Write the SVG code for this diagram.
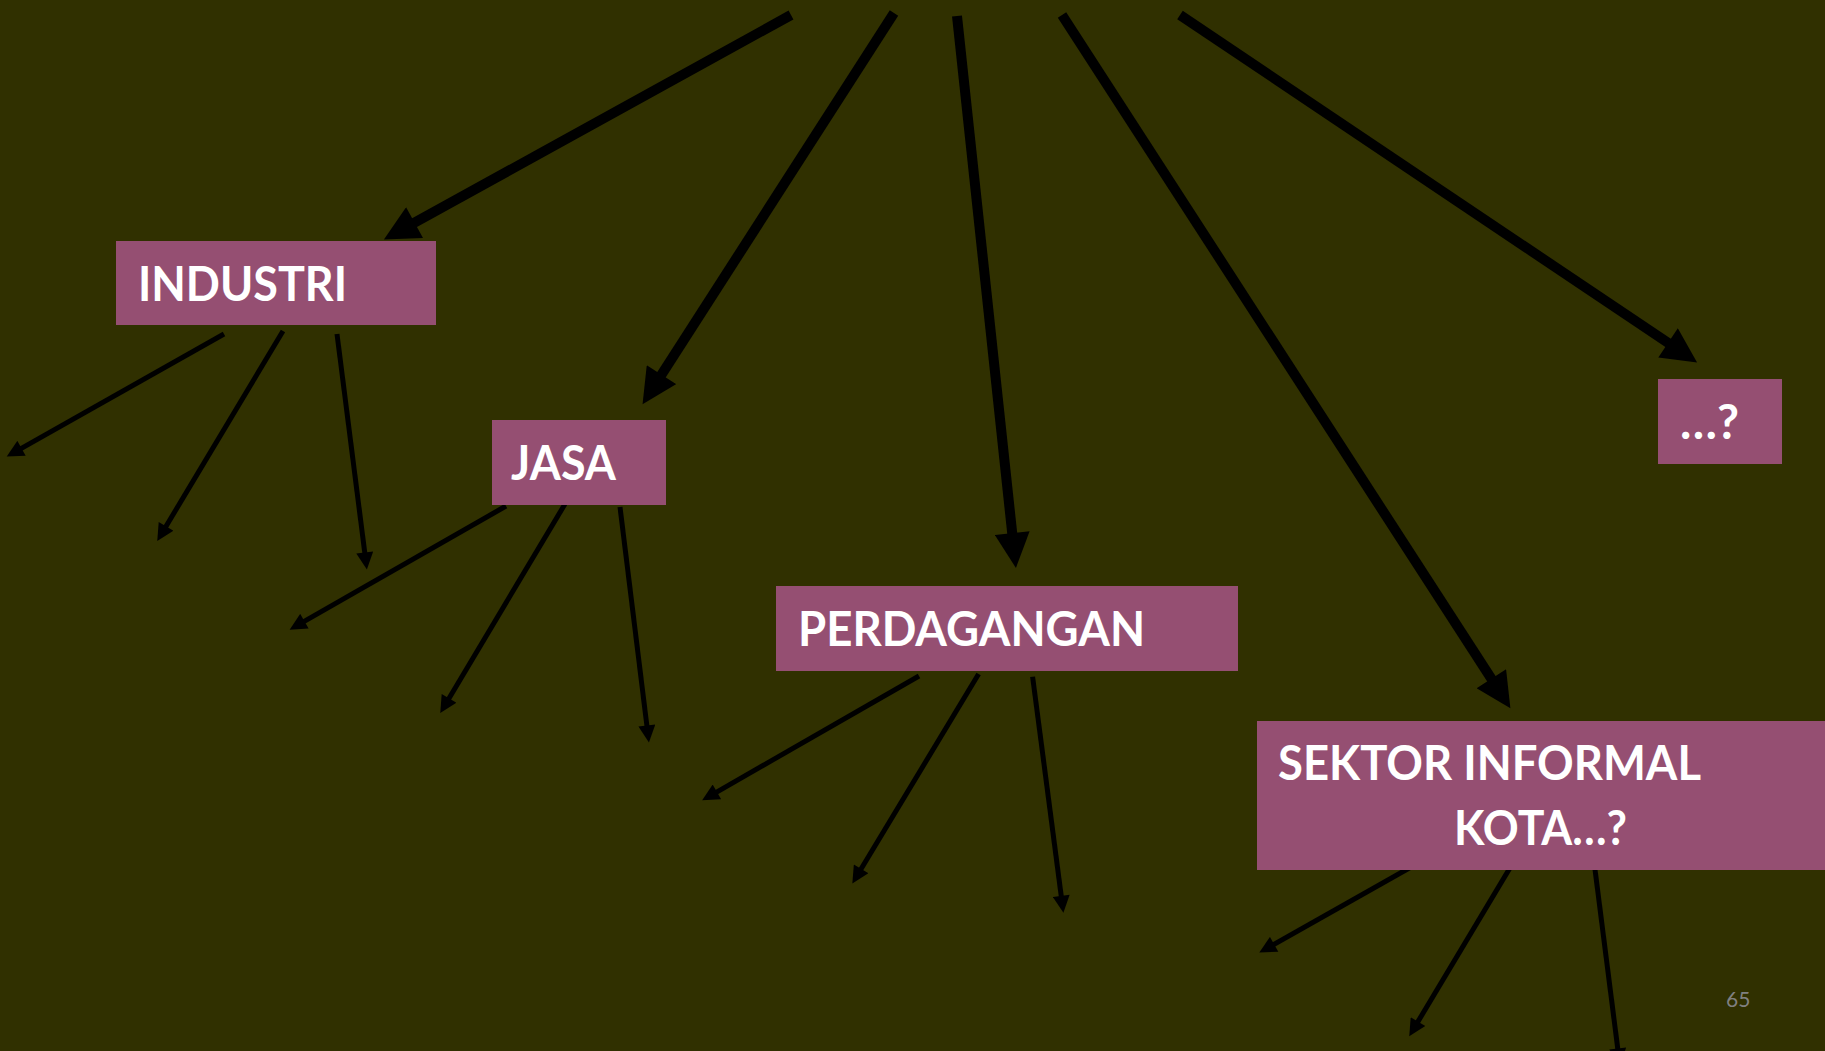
<svg xmlns="http://www.w3.org/2000/svg" width="1825" height="1051" viewBox="0 0 1825 1051">
  <style>
    .bg { fill: #303000; }
    .box { fill: #954F72; }
    .label { font-family: Lato, "Open Sans", "Liberation Sans", sans-serif; font-weight: 700; font-size: 47px; fill: #FFFFFF; }
    .page { font-family: Lato, "Open Sans", "Liberation Sans", sans-serif; font-size: 21px; fill: #808080; }
    .thick { stroke: #000000; stroke-width: 10; fill: none; marker-end: url(#headBig); }
    .thin { stroke: #000000; stroke-width: 5; fill: none; marker-end: url(#headSmall); }
  </style>
  <defs>
    <marker id="headBig" viewBox="0 0 10 10" refX="4" refY="5" markerUnits="userSpaceOnUse" markerWidth="36" markerHeight="35" orient="auto">
      <path d="M0,0 L10,5 L0,10 z" fill="#000000"/>
    </marker>
    <marker id="headSmall" viewBox="0 0 10 10" refX="4" refY="5" markerUnits="userSpaceOnUse" markerWidth="18" markerHeight="17" orient="auto">
      <path d="M0,0 L10,5 L0,10 z" fill="#000000"/>
    </marker>
  </defs>

  <rect class="bg" x="0" y="0" width="1825" height="1051"/>

  <!-- connectors: five main branches from the top, three sub-branches under each sector -->
  <g id="connectors">
    <line class="thick" x1="791" y1="15" x2="402.3" y2="229.4"/>
    <line class="thick" x1="894" y1="13" x2="653.9" y2="386.5"/>
    <line class="thick" x1="957" y1="16" x2="1013.7" y2="547.1"/>
    <line class="thick" x1="1062" y1="15" x2="1499" y2="690.5"/>
    <line class="thick" x1="1180" y1="15" x2="1679.7" y2="350.7"/>

    <line class="thin" x1="224" y1="334" x2="15.6" y2="451.6"/>
    <line class="thin" x1="283" y1="331" x2="162.5" y2="532.2"/>
    <line class="thin" x1="337" y1="334" x2="365.6" y2="559.3"/>

    <line class="thin" x1="506" y1="506" x2="298.5" y2="624.6"/>
    <line class="thin" x1="565" y1="504" x2="445.5" y2="704.2"/>
    <line class="thin" x1="620" y1="507" x2="647.7" y2="732.3"/>

    <line class="thin" x1="919" y1="676" x2="711.0" y2="795.3"/>
    <line class="thin" x1="978.6" y1="674" x2="857.6" y2="874.7"/>
    <line class="thin" x1="1032.6" y1="676.7" x2="1062.1" y2="902.6"/>

    <line class="thin" x1="1476.6" y1="830" x2="1268.2" y2="947.6"/>
    <line class="thin" x1="1535" y1="826.2" x2="1414.5" y2="1027.4"/>
    <line class="thin" x1="1590" y1="830" x2="1618.6" y2="1055.3"/>
  </g>

  <g id="node-industri">
    <rect class="box" x="116" y="241" width="320" height="84"/>
    <text class="label" x="138" y="301" textLength="209" lengthAdjust="spacingAndGlyphs">INDUSTRI</text>
  </g>

  <g id="node-jasa">
    <rect class="box" x="492" y="420" width="174" height="85"/>
    <text class="label" x="511" y="480" textLength="105" lengthAdjust="spacingAndGlyphs">JASA</text>
  </g>

  <g id="node-perdagangan">
    <rect class="box" x="776" y="586" width="462" height="85"/>
    <text class="label" x="798" y="646" textLength="347" lengthAdjust="spacingAndGlyphs">PERDAGANGAN</text>
  </g>

  <g id="node-sektor-informal">
    <rect class="box" x="1257" y="721" width="568" height="149"/>
    <text class="label" x="1278" y="780" textLength="423" lengthAdjust="spacingAndGlyphs">SEKTOR INFORMAL</text>
    <text class="label" x="1454" y="845" textLength="173" lengthAdjust="spacingAndGlyphs">KOTA…?</text>
  </g>

  <g id="node-lainnya">
    <rect class="box" x="1658" y="379" width="124" height="85"/>
    <text class="label" x="1680" y="439" textLength="59" lengthAdjust="spacingAndGlyphs">…?</text>
  </g>

  <text class="page" x="1726" y="1007">65</text>
</svg>
